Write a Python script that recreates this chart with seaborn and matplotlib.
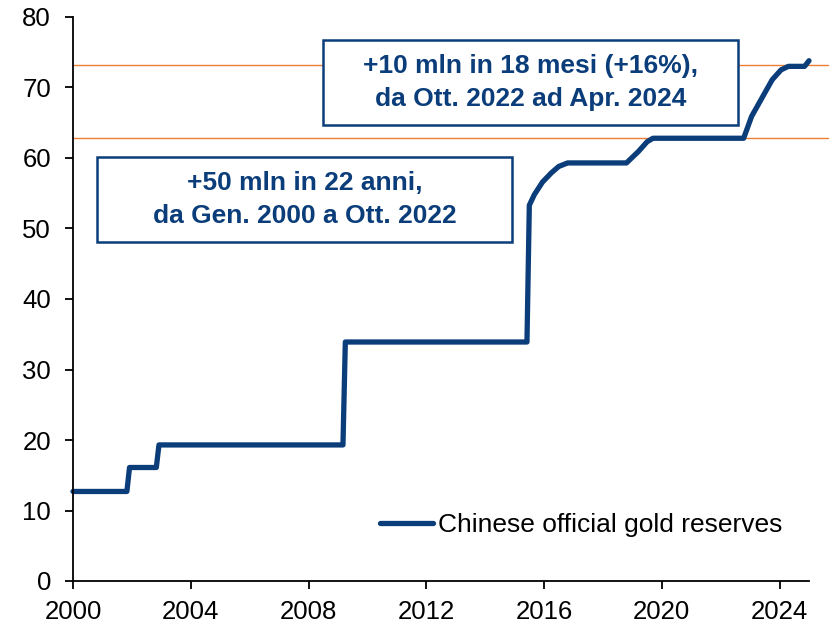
import matplotlib
matplotlib.use("Agg")
import matplotlib.pyplot as plt
import matplotlib.patches as mpatches
import seaborn as sns
import pandas as pd

# Data (year fraction, million ounces)
years = [2000.0, 2001.83, 2001.92, 2002.83, 2002.92, 2009.17, 2009.25, 2015.42, 2015.5,
         2015.67, 2015.95, 2016.25, 2016.5, 2016.8, 2018.8, 2019.2, 2019.5, 2019.7,
         2022.78, 2023.05, 2023.4, 2023.75, 2024.05, 2024.3, 2024.85, 2025.0]
reserves = [12.7, 12.7, 16.1, 16.1, 19.3, 19.3, 33.9, 33.9, 53.3,
            54.8, 56.6, 57.9, 58.8, 59.3, 59.3, 60.9, 62.3, 62.8,
            62.8, 65.9, 68.5, 71.1, 72.5, 73.0, 73.0, 73.8]
ref_levels = [62.8, 73.2]
x_ticks = [2000, 2004, 2008, 2012, 2016, 2020, 2024]
y_ticks = [0, 10, 20, 30, 40, 50, 60, 70, 80]
series_name = "Chinese official gold reserves"
box1_text = "+10 mln in 18 mesi (+16%),\nda Ott. 2022 ad Apr. 2024"
box2_text = "+50 mln in 22 anni,\nda Gen. 2000 a Ott. 2022"

navy = "#0a3d7a"
orange = "#ED7D31"

sns.set_theme(style="white")
plt.rcParams['font.family'] = ['Liberation Sans', 'DejaVu Sans']
plt.rcParams['text.color'] = 'black'

W, H = 834, 624
fig = plt.figure(figsize=(W / 100, H / 100), dpi=100)
ax = fig.add_axes([73 / W, 1 - 581 / H, (809 - 73) / W, (581 - 17) / H])

df = pd.DataFrame({"year": years, "value": reserves, "series": series_name})
sns.lineplot(data=df, x="year", y="value", hue="series", palette=[navy],
             estimator=None, sort=False, linewidth=3.8, ax=ax,
             solid_joinstyle="round", solid_capstyle="round", clip_on=False)

# reference lines, extending past the axes to the right
for lv in ref_levels:
    ax.plot([0, (828 - 73) / (809 - 73)], [lv, lv], color=orange, linewidth=1.0,
            transform=ax.get_yaxis_transform(), clip_on=False, zorder=1)

ax.set_xlim(2000, 2025.0)
ax.set_ylim(0, 80)
ax.set_xticks(x_ticks)
ax.set_yticks(y_ticks)
ax.set_xlabel("")
ax.set_ylabel("")
for s in ["top", "right"]:
    ax.spines[s].set_visible(False)
for s in ["left", "bottom"]:
    ax.spines[s].set_color("black")
    ax.spines[s].set_linewidth(1.3)
ax.tick_params(axis="both", which="both", direction="out", length=5.8, width=1.3,
               colors="black", labelsize=18.5, left=True, bottom=True)
ax.tick_params(axis="y", pad=10)
ax.tick_params(axis="x", pad=8)

leg = ax.legend(loc="center left", bbox_to_anchor=((380 - 73) / 736, (581 - 525) / 564),
                frameon=False, fontsize=19, handlelength=2.0, handletextpad=0.2,
                borderpad=0, borderaxespad=0)
for t in leg.get_texts():
    t.set_color("black")
for line in leg.get_lines():
    line.set_linewidth(3.8)
    line.set_solid_capstyle("round")


def add_box(x0, y0, x1, y1, text):
    rect = mpatches.Rectangle((x0 / W, 1 - y1 / H), (x1 - x0) / W, (y1 - y0) / H,
                              transform=fig.transFigure, facecolor="white",
                              edgecolor=navy, linewidth=1.8, zorder=5)
    fig.add_artist(rect)
    fig.text((x0 + x1) / 2 / W, 1 - (y0 + y1) / 2 / H, text, ha="center", va="center",
             fontsize=19, fontweight="bold", color=navy, linespacing=1.45, zorder=6)


add_box(323, 40, 738, 125, box1_text)
add_box(97, 157, 512, 242, box2_text)

fig.savefig("out.png", dpi=100)
